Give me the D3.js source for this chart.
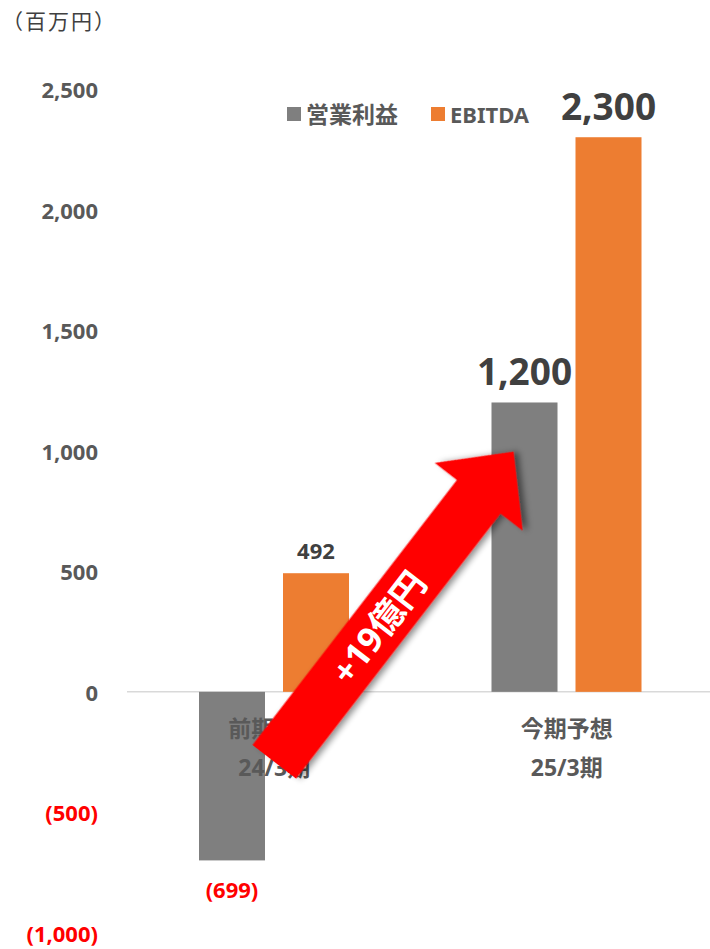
<!DOCTYPE html>
<html><head><meta charset="utf-8">
<script src="https://cdn.jsdelivr.net/npm/d3@7"></script>
<style>
html,body{margin:0;padding:0;background:#fff;}
svg{display:block;font-family:"Noto Sans","Noto Sans CJK JP",sans-serif;}
</style></head>
<body><svg id="c" width="710" height="949"></svg>
<script>
const categories = [["前期実績","24/3期"],["今期予想","25/3期"]];
const series = ["営業利益","EBITDA"];
const opProfit = [-699, 1200];
const ebitda = [492, 2300];
const yTicks = [-1000,-500,0,500,1000,1500,2000,2500];
const yTickLabels = ["(1,000)","(500)","0","500","1,000","1,500","2,000","2,500"];
const valueLabels = [["(699)","1,200"],["492","2,300"]];
const unitLabel = "（百万円）";
const arrowLabel = "+19億円";
const arrowFromValue = -290;
const arrowToValue = 996;

const colors = {"営業利益":"#7f7f7f","EBITDA":"#ed7d31"};
const svg = d3.select("#c");

const defs = svg.append("defs");
const f = defs.append("filter").attr("id","sh").attr("x","-20%").attr("y","-20%").attr("width","150%").attr("height","150%");
f.append("feDropShadow").attr("dx",3).attr("dy",4).attr("stdDeviation",3).attr("flood-color","#000").attr("flood-opacity",0.45);

const y = d3.scaleLinear().domain([-1000,2500]).range([933,89]);
const catKeys = categories.map(c=>c.join("/"));
const x0 = d3.scaleBand().domain(catKeys).range([128,713]);
const x1 = d3.scaleBand().domain(series).range([71,221]).paddingInner(0.2143);

// unit label
svg.append("text").attr("x",2).attr("y",20).attr("dominant-baseline","central")
  .attr("font-family","'Noto Sans CJK JP',sans-serif")
  .attr("font-size",21).attr("letter-spacing",2).attr("fill","#404040").text(unitLabel);

// y tick labels
svg.append("g").selectAll("text").data(yTicks).join("text")
  .attr("x",98).attr("y",d=>y(d)).attr("text-anchor","end").attr("dominant-baseline","central")
  .attr("font-size",22).attr("font-weight","bold")
  .attr("fill",d=>d<0?"#ff0000":"#595959")
  .text((d,i)=>yTickLabels[i]);

// baseline
svg.append("line").attr("x1",127).attr("x2",710).attr("y1",y(0)).attr("y2",y(0))
  .attr("stroke","#d9d9d9").attr("stroke-width",1.5);

// bars
const data = [];
catKeys.forEach((c,i)=>{
  data.push({cat:c,s:"営業利益",v:opProfit[i],label:valueLabels[0][i]});
  data.push({cat:c,s:"EBITDA",v:ebitda[i],label:valueLabels[1][i]});
});
svg.append("g").selectAll("rect").data(data).join("rect")
  .attr("x",d=>x0(d.cat)+x1(d.s)).attr("width",x1.bandwidth())
  .attr("y",d=>y(Math.max(0,d.v))).attr("height",d=>Math.abs(y(d.v)-y(0)))
  .attr("fill",d=>colors[d.s]);

// value labels
svg.append("g").selectAll("text").data(data).join("text")
  .attr("x",d=>x0(d.cat)+x1(d.s)+x1.bandwidth()/2)
  .attr("y",d=>d.v<0?y(d.v)+29:(d.v>1000?y(d.v)-32:y(d.v)-23))
  .attr("text-anchor","middle").attr("dominant-baseline","central")
  .attr("font-weight","bold")
  .attr("font-size",d=>d.v>1000?37:22)
  .attr("fill",d=>d.v<0?"#ff0000":"#404040")
  .text(d=>d.label);

// category labels
categories.forEach((c,i)=>{
  const cx = x0(catKeys[i])+x0.bandwidth()/2;
  c.forEach((t,j)=>{
    svg.append("text").attr("x",cx).attr("y",728+j*39)
      .attr("text-anchor","middle").attr("dominant-baseline","central")
      .attr("font-size",23).attr("font-weight","bold").attr("fill","#595959").text(t);
  });
});

// legend
const lg = svg.append("g");
const legendPos = [287,431];
series.forEach((s,i)=>{
  lg.append("rect").attr("x",legendPos[i]).attr("y",107).attr("width",14).attr("height",14).attr("fill",colors[s]);
  lg.append("text").attr("x",legendPos[i]+19).attr("y",114).attr("dominant-baseline","central")
    .attr("font-size",i===0?23:22).attr("font-weight","bold").attr("fill","#595959").text(s);
});

// arrow annotation
const tail = [x0(catKeys[0])+x0.bandwidth()/2, y(arrowFromValue)];
const tip = [x0(catKeys[1])+x1("営業利益")+22, y(arrowToValue)];
const dx = tip[0]-tail[0], dy = tip[1]-tail[1];
const L = Math.hypot(dx,dy);
const ang = Math.atan2(dy,dx)*180/Math.PI;
const hw = 27.4, headLen = 57, headHw = 55.5;
const ag = svg.append("g").attr("transform",`translate(${tail[0]},${tail[1]}) rotate(${ang})`);
ag.append("path")
  .attr("d",`M0,${-hw} L${L-headLen},${-hw} L${L-headLen},${-headHw} L${L},0 L${L-headLen},${headHw} L${L-headLen},${hw} L0,${hw} Z`)
  .attr("fill","#ff0000").attr("filter","url(#sh)");
ag.append("text").attr("x",L*0.435).attr("y",0)
  .attr("text-anchor","middle").attr("dominant-baseline","central")
  .attr("font-size",35).attr("font-weight","bold").attr("fill","#fff").text(arrowLabel);
</script></body></html>
